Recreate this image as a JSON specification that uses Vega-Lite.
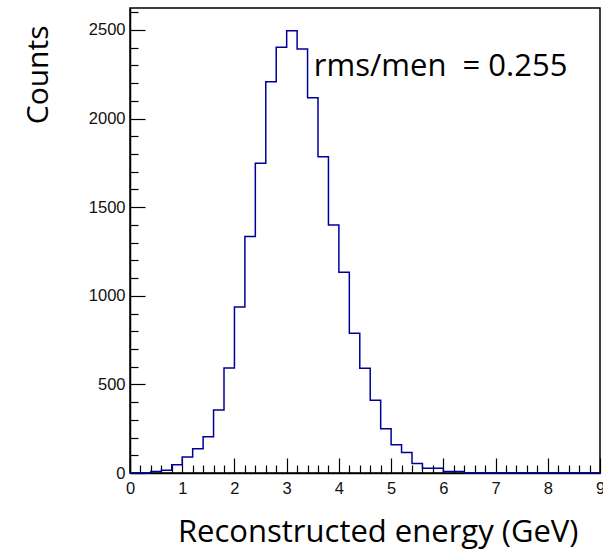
{
  "$schema": "https://vega.github.io/schema/vega-lite/v6.json",
  "width": 470,
  "height": 465,
  "autosize": {"type": "none"},
  "padding": {"left": 130, "top": 8, "right": 3, "bottom": 76},
  "background": "white",
  "config": {
    "view": {"stroke": "#000", "strokeWidth": 1.5},
    "axis": {"grid": false, "domainColor": "#000", "domainWidth": 1.5, "tickColor": "#000", "tickWidth": 1.2, "labelFont": "Liberation Sans", "labelFontSize": 16.5, "labelColor": "#111", "titleFont": "Open Sans", "titleFontWeight": "normal", "titleFontSize": 31, "titleColor": "#000"}
  },
  "datasets": {
    "hist": [
      {"energy": 0.0, "counts": 0}, {"energy": 0.2, "counts": 0}, {"energy": 0.4, "counts": 8}, {"energy": 0.6, "counts": 15},
      {"energy": 0.8, "counts": 47}, {"energy": 1.0, "counts": 90}, {"energy": 1.2, "counts": 137}, {"energy": 1.4, "counts": 205},
      {"energy": 1.6, "counts": 355}, {"energy": 1.8, "counts": 592}, {"energy": 2.0, "counts": 937}, {"energy": 2.2, "counts": 1335},
      {"energy": 2.4, "counts": 1748}, {"energy": 2.6, "counts": 2208}, {"energy": 2.8, "counts": 2402}, {"energy": 3.0, "counts": 2495},
      {"energy": 3.2, "counts": 2393}, {"energy": 3.4, "counts": 2118}, {"energy": 3.6, "counts": 1785}, {"energy": 3.8, "counts": 1400},
      {"energy": 4.0, "counts": 1133}, {"energy": 4.2, "counts": 788}, {"energy": 4.4, "counts": 591}, {"energy": 4.6, "counts": 410},
      {"energy": 4.8, "counts": 250}, {"energy": 5.0, "counts": 160}, {"energy": 5.2, "counts": 115}, {"energy": 5.4, "counts": 53},
      {"energy": 5.6, "counts": 27}, {"energy": 5.8, "counts": 27}, {"energy": 6.0, "counts": 9}, {"energy": 6.2, "counts": 8},
      {"energy": 6.4, "counts": 0}, {"energy": 6.6, "counts": 0}, {"energy": 6.8, "counts": 0}, {"energy": 7.0, "counts": 0},
      {"energy": 7.2, "counts": 0}, {"energy": 7.4, "counts": 0}, {"energy": 7.6, "counts": 0}, {"energy": 7.8, "counts": 0},
      {"energy": 8.0, "counts": 0}, {"energy": 8.2, "counts": 0}, {"energy": 8.4, "counts": 0}, {"energy": 8.6, "counts": 0},
      {"energy": 8.8, "counts": 0}, {"energy": 9.0, "counts": 0}
    ],
    "note": [
      {"x": 3.52, "y": 2240, "label": "rms/men\u00a0 = 0.255"}
    ]
  },
  "layer": [
    {
      "data": {"name": "hist"},
      "mark": {"type": "line", "interpolate": "step-after", "color": "#000099", "strokeWidth": 1.5},
      "encoding": {
        "x": {"field": "energy", "type": "quantitative", "scale": {"domain": [0, 9], "nice": false, "zero": false},
          "axis": {"orient": "bottom", "values": [0, 1, 2, 3, 4, 5, 6, 7, 8, 9], "tickSize": -15, "labelPadding": 22, "labelFlush": false, "format": "d",
            "title": "Reconstructed energy (GeV)", "titleX": 448, "titleY": 68, "titleAlign": "right", "titleBaseline": "alphabetic", "titleAnchor": null}},
        "y": {"field": "counts", "type": "quantitative", "scale": {"domain": [0, 2624], "nice": false},
          "axis": {"orient": "left", "values": [0, 500, 1000, 1500, 2000, 2500], "tickSize": -15, "labelPadding": 20, "format": "d",
            "title": "Counts", "titleFontSize": 30, "titleAngle": -90, "titleX": -83, "titleY": 17, "titleAlign": "right", "titleBaseline": "alphabetic", "titleAnchor": null}}
      }
    },
    {
      "data": {"name": "note"},
      "mark": {"type": "text", "align": "left", "baseline": "alphabetic", "font": "Open Sans", "fontSize": 31, "color": "#000"},
      "encoding": {
        "x": {"field": "x", "type": "quantitative", "scale": {"domain": [0, 9], "nice": false, "zero": false},
          "axis": {"orient": "bottom", "values": [0.2, 0.4, 0.6, 0.8, 1.2, 1.4, 1.6, 1.8, 2.2, 2.4, 2.6, 2.8, 3.2, 3.4, 3.6, 3.8, 4.2, 4.4, 4.6, 4.8, 5.2, 5.4, 5.6, 5.8, 6.2, 6.4, 6.6, 6.8, 7.2, 7.4, 7.6, 7.8, 8.2, 8.4, 8.6, 8.8], "tickSize": -8, "labels": false, "domain": false, "title": null}},
        "y": {"field": "y", "type": "quantitative", "scale": {"domain": [0, 2624], "nice": false},
          "axis": {"orient": "left", "values": [100, 200, 300, 400, 600, 700, 800, 900, 1100, 1200, 1300, 1400, 1600, 1700, 1800, 1900, 2100, 2200, 2300, 2400, 2600], "tickSize": -8, "labels": false, "domain": false, "title": null}},
        "text": {"field": "label"}
      }
    }
  ],
  "resolve": {"axis": {"x": "independent", "y": "independent"}}
}
